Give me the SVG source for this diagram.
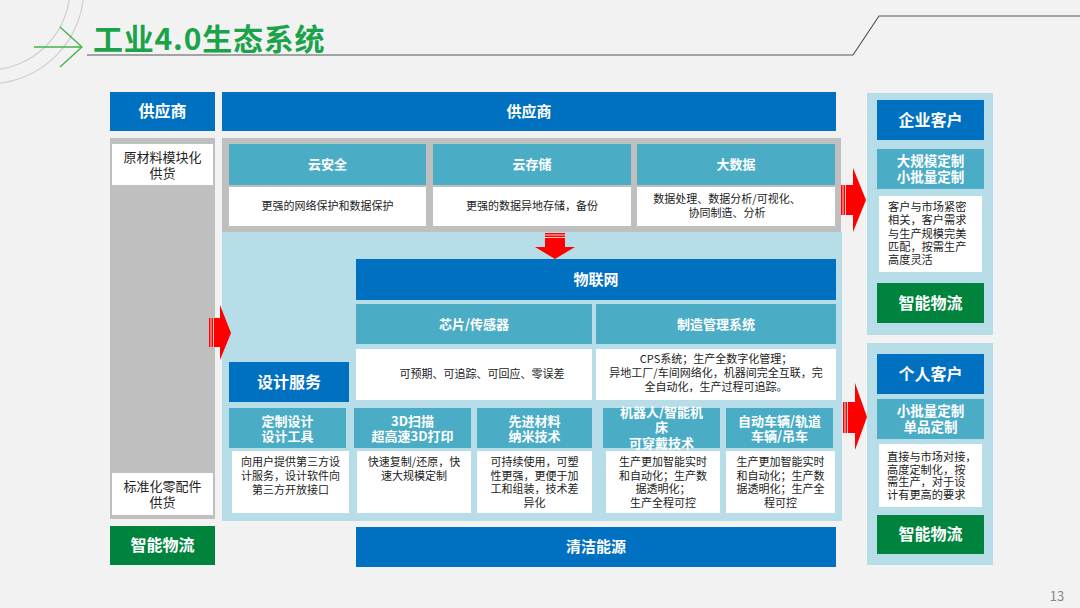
<svg xmlns="http://www.w3.org/2000/svg" width="1080" height="608" viewBox="0 0 1080 608">
<defs>
<style>
text{font-family:"Noto Sans CJK SC","Liberation Sans",sans-serif;}
.blue{fill:#0070c0;}
.teal{fill:#4bacc6;}
.green{fill:#00843d;}
.white{fill:#ffffff;}
.gray{fill:#bfbfbf;}
.lb{fill:#b7dee8;}
.red{fill:#ff0000;}
.h16{font-size:16px;font-weight:bold;fill:#fff;text-anchor:middle;}
.h15{font-size:15px;font-weight:bold;fill:#fff;text-anchor:middle;}
.h13{font-size:13px;font-weight:bold;fill:#fff;text-anchor:middle;}
.h14{font-size:13.5px;font-weight:bold;fill:#fff;text-anchor:middle;}
.t11{font-size:11px;fill:#222;text-anchor:middle;}
.t11l{font-size:11.2px;fill:#222;}
.t13{font-size:13px;fill:#222;text-anchor:middle;}
.stripe{stroke:#fff;stroke-width:0.8;}
</style>
</defs>
<rect x="0" y="0" width="1080" height="608" fill="#f2f2f2"/>

<g id="title">
<circle cx="-12" cy="-12" r="82" fill="none" stroke="#cfcfcf" stroke-width="1.2"/>
<circle cx="-12" cy="-12" r="96" fill="none" stroke="#cfcfcf" stroke-width="1.2"/>
<line x1="34" y1="47" x2="82" y2="47" stroke="#3cb54a" stroke-width="1.3"/>
<polyline points="60,27 82,47 60,67" fill="none" stroke="#3cb54a" stroke-width="1.3"/>
<text x="93" y="50" font-size="30" font-weight="bold" letter-spacing="0.8" fill="#1aa34a">工业4.0生态系统</text>
<polyline points="87,55 853,55 879,16 1080,16" fill="none" stroke="#555" stroke-width="1.2"/>
<text x="1057" y="601" font-size="13" fill="#888" text-anchor="middle" font-family="Liberation Sans, sans-serif">13</text>
</g>

<g id="left-supplier">
<rect class="blue" x="110" y="92" width="105" height="39"/>
<text class="h16" x="162.5" y="117">供应商</text>
<rect class="gray" x="110" y="138" width="105" height="381"/>
<rect class="white" x="112" y="144" width="101" height="41"/>
<text class="t13" x="162.5" y="161.5">原材料模块化</text>
<text class="t13" x="162.5" y="177.5">供货</text>
<rect class="white" x="112" y="473" width="101" height="42"/>
<text class="t13" x="162.5" y="490.5">标准化零配件</text>
<text class="t13" x="162.5" y="506.5">供货</text>
<rect class="green" x="110" y="526" width="105" height="39"/>
<text class="h16" x="162.5" y="551">智能物流</text>
</g>

<g id="top-supplier">
<rect class="blue" x="222" y="92" width="614" height="39"/>
<text class="h15" x="529" y="116.5">供应商</text>
</g>

<g id="cloud">
<rect class="gray" x="222" y="138" width="619" height="94"/>
<rect class="teal" x="229" y="144" width="197" height="41"/>
<text class="h13" x="327.5" y="169">云安全</text>
<rect class="white" x="229" y="187" width="197" height="39"/>
<text class="t11" x="327.5" y="210">更强的网络保护和数据保护</text>
<rect class="teal" x="433" y="144" width="198" height="41"/>
<text class="h13" x="532" y="169">云存储</text>
<rect class="white" x="433" y="187" width="198" height="39"/>
<text class="t11" x="532" y="210">更强的数据异地存储，备份</text>
<rect class="teal" x="637" y="144" width="198" height="41"/>
<text class="h13" x="736" y="169">大数据</text>
<rect class="white" x="637" y="187" width="198" height="39"/>
<text class="t11" x="727" y="203">数据处理、数据分析/可视化、</text>
<text class="t11" x="727" y="217">协同制造、分析</text>
</g>

<g id="core">
<rect class="lb" x="222" y="232" width="620" height="289"/>
</g>

<g id="iot">
<rect class="blue" x="356" y="259" width="480" height="41"/>
<text class="h15" x="596" y="284.5">物联网</text>
<rect class="teal" x="356" y="304" width="236" height="40"/>
<text class="h13" x="474" y="328.5">芯片/传感器</text>
<rect class="white" x="356" y="349" width="236" height="51"/>
<text class="t11" x="482" y="378">可预期、可追踪、可回应、零误差</text>
<rect class="teal" x="596" y="304" width="240" height="40"/>
<text class="h13" x="716" y="328.5">制造管理系统</text>
<rect class="white" x="596" y="349" width="240" height="51"/>
<text class="t11" x="716" y="363">CPS系统；生产全数字化管理；</text>
<text class="t11" x="716" y="377">异地工厂/车间网络化，机器间完全互联，完</text>
<text class="t11" x="716" y="391">全自动化，生产过程可追踪。</text>
</g>

<g id="design-service">
<rect class="blue" x="229" y="362" width="120" height="40"/>
<text class="h16" x="289" y="387.5">设计服务</text>
</g>

<g id="custom-design">
<rect class="teal" x="229" y="408" width="117" height="40"/>
<text class="h13" x="287.5" y="425.5">定制设计</text>
<text class="h13" x="287.5" y="440.5">设计工具</text>
<rect class="white" x="232" y="451" width="117" height="62"/>
<text class="t11" x="290.5" y="466">向用户提供第三方设</text>
<text class="t11" x="290.5" y="480">计服务，设计软件向</text>
<text class="t11" x="290.5" y="494">第三方开放接口</text>
</g>

<g id="scan3d">
<rect class="teal" x="354" y="408" width="117" height="40"/>
<text class="h13" x="412.5" y="425.5">3D扫描</text>
<text class="h13" x="412.5" y="440.5">超高速3D打印</text>
<rect class="white" x="357" y="451" width="114" height="62"/>
<text class="t11" x="414" y="466">快速复制/还原，快</text>
<text class="t11" x="414" y="480">速大规模定制</text>
</g>

<g id="materials">
<rect class="teal" x="477" y="408" width="115" height="40"/>
<text class="h13" x="534.5" y="425.5">先进材料</text>
<text class="h13" x="534.5" y="440.5">纳米技术</text>
<rect class="white" x="477" y="451" width="115" height="62"/>
<text class="t11" x="534.5" y="466">可持续使用，可塑</text>
<text class="t11" x="534.5" y="479.5">性更强，更便于加</text>
<text class="t11" x="534.5" y="493">工和组装，技术差</text>
<text class="t11" x="534.5" y="506.5">异化</text>
</g>

<g id="robot">
<rect class="teal" x="603" y="408" width="117" height="40"/>
<text class="h13" x="661.5" y="416.5">机器人/智能机</text>
<text class="h13" x="661.5" y="432">床</text>
<text class="h13" x="661.5" y="447.5">可穿戴技术</text>
<rect class="white" x="606" y="451" width="114" height="62"/>
<text class="t11" x="663" y="466">生产更加智能实时</text>
<text class="t11" x="663" y="479.5">和自动化；生产数</text>
<text class="t11" x="663" y="493">据透明化；</text>
<text class="t11" x="663" y="506.5">生产全程可控</text>
</g>

<g id="vehicle">
<rect class="teal" x="726" y="408" width="107" height="40"/>
<text class="h13" x="779.5" y="425.5">自动车辆/轨道</text>
<text class="h13" x="779.5" y="440.5">车辆/吊车</text>
<rect class="white" x="726" y="451" width="109" height="62"/>
<text class="t11" x="780.5" y="466">生产更加智能实时</text>
<text class="t11" x="780.5" y="479.5">和自动化；生产数</text>
<text class="t11" x="780.5" y="493">据透明化；生产全</text>
<text class="t11" x="780.5" y="506.5">程可控</text>
</g>

<g id="clean-energy">
<rect class="blue" x="356" y="527" width="480" height="40"/>
<text class="h15" x="596" y="552">清洁能源</text>
</g>

<g id="enterprise">
<rect class="lb" x="867" y="93" width="126" height="242"/>
<rect class="blue" x="877" y="100" width="107" height="40"/>
<text class="h16" x="930.5" y="125.5">企业客户</text>
<rect class="teal" x="877" y="149" width="107" height="40"/>
<text class="h14" x="930.5" y="165.5">大规模定制</text>
<text class="h14" x="930.5" y="181.5">小批量定制</text>
<rect class="white" x="879" y="196" width="103" height="76"/>
<text class="t11l" x="888" y="211">客户与市场紧密</text>
<text class="t11l" x="888" y="224.3">相关，客户需求</text>
<text class="t11l" x="888" y="237.6">与生产规模完美</text>
<text class="t11l" x="888" y="250.9">匹配，按需生产</text>
<text class="t11l" x="888" y="264.2">高度灵活</text>
<rect class="green" x="877" y="283" width="107" height="40"/>
<text class="h16" x="930.5" y="308.5">智能物流</text>
</g>

<g id="personal">
<rect class="lb" x="867" y="343" width="126" height="222"/>
<rect class="blue" x="877" y="354" width="107" height="40"/>
<text class="h16" x="930.5" y="379.5">个人客户</text>
<rect class="teal" x="877" y="399" width="107" height="40"/>
<text class="h14" x="930.5" y="416">小批量定制</text>
<text class="h14" x="930.5" y="432">单品定制</text>
<rect class="white" x="879" y="444" width="103" height="63"/>
<text class="t11l" x="887" y="461">直接与市场对接，</text>
<text class="t11l" x="887" y="473.5">高度定制化，按</text>
<text class="t11l" x="887" y="486">需生产，对于设</text>
<text class="t11l" x="887" y="498.5">计有更高的要求</text>
<rect class="green" x="877" y="515" width="107" height="39"/>
<text class="h16" x="930.5" y="540">智能物流</text>
</g>

<g id="connectors">
<path class="red" d="M545,233 H565 V247 H575 L555,259 L535,247 H545 Z"/>
<line class="stripe" x1="545" y1="235" x2="565" y2="235"/>
<line class="stripe" x1="545" y1="237.5" x2="565" y2="237.5"/>
<path class="red" d="M209,318 V347 H220 V360 L231,333 L220,305 V318 Z"/>
<line class="stripe" x1="211" y1="318" x2="211" y2="347"/>
<line class="stripe" x1="213.5" y1="318" x2="213.5" y2="347"/>
<path class="red" d="M841,185 V215 H853 V232 L866,200 L853,168 V185 Z"/>
<line class="stripe" x1="843" y1="185" x2="843" y2="215"/>
<line class="stripe" x1="845.5" y1="185" x2="845.5" y2="215"/>
<path class="red" d="M843,402 V433 H855 V450 L867,417 L855,383 V402 Z"/>
<line class="stripe" x1="845" y1="402" x2="845" y2="433"/>
<line class="stripe" x1="847.5" y1="402" x2="847.5" y2="433"/>
</g>
</svg>
